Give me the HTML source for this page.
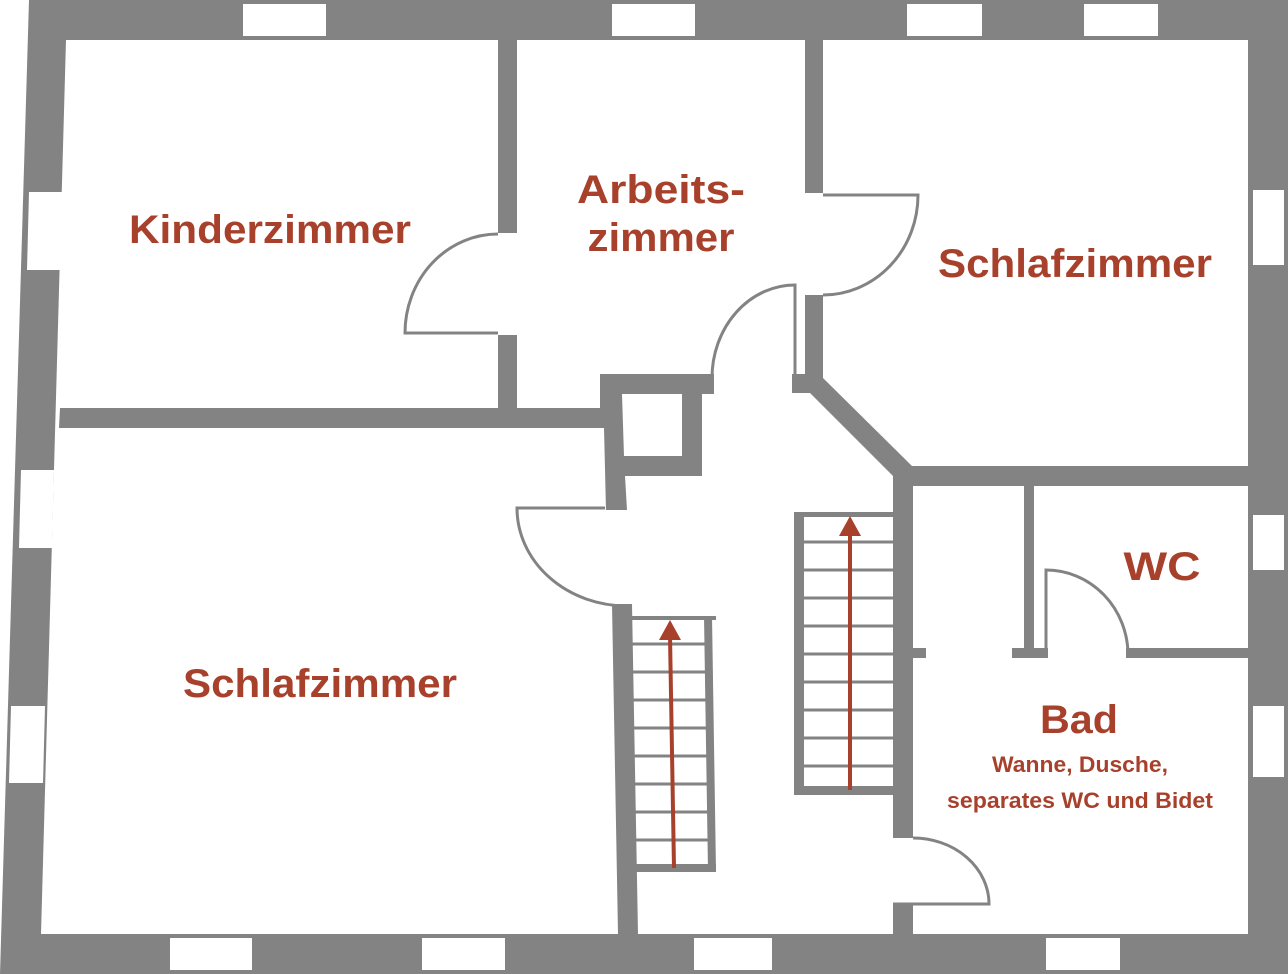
<!DOCTYPE html>
<html><head><meta charset="utf-8"><style>
html,body{margin:0;padding:0;background:#fff}
svg{display:block}
text{font-family:"Liberation Sans",sans-serif;fill:#a8412c;text-anchor:middle;font-weight:bold}
</style></head><body>
<svg width="1288" height="974" viewBox="0 0 1288 974" xmlns="http://www.w3.org/2000/svg">
<g fill="#838383">
<polygon points="29,0 1288,0 1288,974 0,974"/>
</g>
<polygon points="66,40 1248,40 1248,934 41,934" fill="#fff"/>
<!-- windows -->
<g fill="#fff">
<rect x="243" y="4" width="83" height="32"/>
<rect x="612" y="4" width="83" height="32"/>
<rect x="907" y="4" width="75" height="32"/>
<rect x="1084" y="4" width="74" height="32"/>
<polygon points="29,192 62,192 60,270 27,270"/>
<polygon points="21,470 54,470 52,548 19,548"/>
<polygon points="11,706 45,706 43,783 9,783"/>
<rect x="1253" y="190" width="31" height="75"/>
<rect x="1253" y="515" width="31" height="55"/>
<rect x="1253" y="706" width="31" height="71"/>
<rect x="170" y="938" width="82" height="32"/>
<rect x="422" y="938" width="83" height="32"/>
<rect x="694" y="938" width="78" height="32"/>
<rect x="1046" y="938" width="74" height="32"/>
</g>
<!-- interior walls -->
<g fill="#838383">
<rect x="498" y="40" width="19" height="193"/>
<rect x="498" y="335" width="19" height="73"/>
<polygon points="60,408 605,408 605,428 59,428"/>
<polygon points="600,374 714,374 714,394 702,394 702,476 625,476 627,510 606,510 604,428 600,408"/>
<rect x="805" y="40" width="18" height="153"/>
<rect x="805" y="295" width="18" height="83"/>
<rect x="792" y="374" width="18" height="19"/>
<polygon points="805,378 823,378 912,466 1288,466 1288,486 913,486 913,838 893,838 893,476 810,393 792,393"/>
<rect x="893" y="904" width="20" height="30"/>
<rect x="913" y="648" width="13" height="10"/>
<rect x="1024" y="486" width="10" height="171"/>
<rect x="1012" y="648" width="36" height="10"/>
<rect x="1126" y="648" width="122" height="10"/>
<polygon points="612,604 632,604 638,934 618,934"/>
<!-- right stairs -->
<rect x="794" y="512" width="10" height="283"/>
<rect x="794" y="512" width="99" height="5"/>
<rect x="794" y="786" width="99" height="9"/>
<rect x="632" y="616" width="84" height="4"/>
<polygon points="704,616 712,616 716,872 708,872"/>
<rect x="632" y="864" width="84" height="8"/>
</g>
<polygon points="622,394 682,394 682,456 624,456" fill="#fff"/>
<g stroke="#838383" stroke-width="3" fill="none">
<path d="M804 542H893M804 570H893M804 598H893M804 626H893M804 654H893M804 682H893M804 710H893M804 738H893M804 766H893"/>
<path d="M632 644H706M632 672H706M632 700H707M632 728H707M632 756H708M632 784H708M632 812H709M632 840H709"/>
<!-- doors -->
<path d="M498 333H405A93 99 0 0 1 498 234"/>
<path d="M823 195H918A95 100 0 0 1 823 295"/>
<path d="M712 378A83 93 0 0 1 795 285V390"/>
<path d="M605 508H517A110 98 0 0 0 627 606"/>
<path d="M913 838A76 66 0 0 1 989 904H893"/>
<path d="M1046 657V570A82 85 0 0 1 1128 655"/>
</g>
<!-- arrows -->
<g fill="#a8412c" stroke="none">
<rect x="848" y="530" width="4" height="260"/>
<polygon points="850,516 861,536 839,536"/>
<polygon points="668,636 672,636 676,868 672,868"/>
<polygon points="670,620 681,640 659,640"/>
</g>
<text x="270" y="243" font-size="40" textLength="282" lengthAdjust="spacingAndGlyphs">Kinderzimmer</text>
<text x="661" y="203" font-size="40" textLength="168" lengthAdjust="spacingAndGlyphs">Arbeits-</text>
<text x="661" y="251" font-size="40" textLength="147" lengthAdjust="spacingAndGlyphs">zimmer</text>
<text x="1075" y="277" font-size="40" textLength="274" lengthAdjust="spacingAndGlyphs">Schlafzimmer</text>
<text x="320" y="697" font-size="40" textLength="274" lengthAdjust="spacingAndGlyphs">Schlafzimmer</text>
<text x="1162" y="580" font-size="40" textLength="77" lengthAdjust="spacingAndGlyphs">WC</text>
<text x="1079" y="733" font-size="40" textLength="78" lengthAdjust="spacingAndGlyphs">Bad</text>
<text x="1080" y="772" font-size="22" textLength="176" lengthAdjust="spacingAndGlyphs">Wanne, Dusche,</text>
<text x="1080" y="808" font-size="22" textLength="266" lengthAdjust="spacingAndGlyphs">separates WC und Bidet</text>
</svg>
</body></html>
